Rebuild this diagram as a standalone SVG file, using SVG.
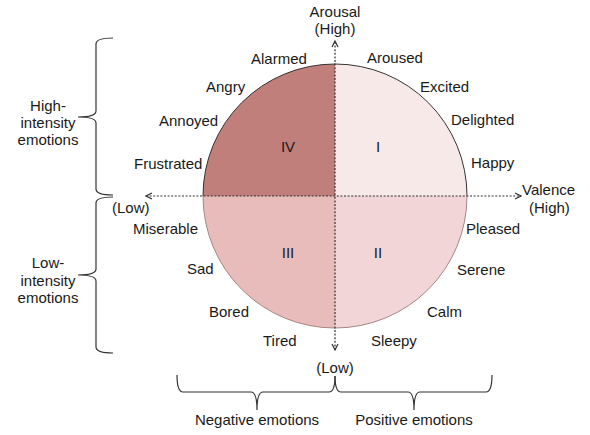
<svg xmlns="http://www.w3.org/2000/svg" width="590" height="435" viewBox="0 0 590 435">
<defs>
<style>
text{font-family:"Liberation Sans",Arial,sans-serif;font-size:15px;fill:#1a1a1a}
.m{text-anchor:middle}
.axis{stroke:#333;stroke-width:1.2;stroke-dasharray:2 1.6;fill:none}
.brace{stroke:#333;stroke-width:1.2;fill:none}
</style>
<marker id="arr" viewBox="0 0 8 8" refX="7" refY="4" markerWidth="8" markerHeight="8" markerUnits="userSpaceOnUse" orient="auto-start-reverse">
<path d="M1,1 L7,4 L1,7" fill="none" stroke="#333" stroke-width="1.2"/>
</marker>
</defs>
<g id="quadrants">
<path id="q4" d="M335,196 L203,196 A132,132 0 0 1 335,64 Z" fill="#c17f7c"/>
<path id="q1" d="M335,196 L335,64 A132,132 0 0 1 467,196 Z" fill="#f6e9e7"/>
<path id="q3" d="M335,196 L335,328 A132,132 0 0 1 203,196 Z" fill="#e9bcbc"/>
<path id="q2" d="M335,196 L467,196 A132,132 0 0 1 335,328 Z" fill="#f2d5d6"/>
<path d="M203,196 A132,132 0 0 1 467,196" fill="none" stroke="#333" stroke-width="1"/>
<path d="M467,196 A132,132 0 0 1 203,196" fill="none" stroke="#a88585" stroke-width="1"/>
</g>
<g id="connectors">
<line class="axis" x1="335" y1="350" x2="335" y2="41" marker-start="url(#arr)" marker-end="url(#arr)"/>
<line class="axis" x1="146" y1="196" x2="521" y2="196" marker-start="url(#arr)" marker-end="url(#arr)"/>
</g>
<g id="braces">
<path class="brace" d="M113,38 Q96,38 96,44 L96,111 Q96,117 78,117 Q96,117 96,123 L96,189 Q96,195 113,195"/>
<path class="brace" d="M113,197 Q96,197 96,203 L96,269 Q96,275 78,275 Q96,275 96,281 L96,347 Q96,353 113,353"/>
<path class="brace" d="M177,375 Q177,392 183,392 L251,392 Q257,392 257,410 Q257,392 263,392 L329,392 Q335,392 335,376"/>
<path class="brace" d="M335,376 Q335,392 341,392 L408,392 Q414,392 414,410 Q414,392 420,392 L486,392 Q492,392 492,375"/>
</g>
<g id="labels">
<text class="m" x="335" y="17">Arousal</text>
<text class="m" x="335" y="34">(High)</text>
<text x="522" y="195">Valence</text>
<text x="529" y="213">(High)</text>
<text x="112" y="213">(Low)</text>
<text class="m" x="335" y="373">(Low)</text>
<text class="m" x="288" y="152">IV</text>
<text class="m" x="378" y="152">I</text>
<text class="m" x="288" y="258">III</text>
<text class="m" x="378" y="258">II</text>
<text x="251" y="64">Alarmed</text>
<text x="206" y="92">Angry</text>
<text x="159" y="126">Annoyed</text>
<text x="134" y="169">Frustrated</text>
<text x="367" y="63">Aroused</text>
<text x="420" y="92">Excited</text>
<text x="451" y="125">Delighted</text>
<text x="471" y="168">Happy</text>
<text x="133" y="234">Miserable</text>
<text x="187" y="274">Sad</text>
<text x="209" y="317">Bored</text>
<text x="263" y="346">Tired</text>
<text x="466" y="234">Pleased</text>
<text x="457" y="275">Serene</text>
<text x="427" y="317">Calm</text>
<text x="371" y="346">Sleepy</text>
<text class="m" x="48" y="111">High-</text>
<text class="m" x="48" y="128">intensity</text>
<text class="m" x="48" y="145">emotions</text>
<text class="m" x="48" y="268">Low-</text>
<text class="m" x="48" y="286">intensity</text>
<text class="m" x="48" y="303">emotions</text>
<text class="m" x="257" y="425">Negative emotions</text>
<text class="m" x="414" y="425">Positive emotions</text>
</g>
</svg>
